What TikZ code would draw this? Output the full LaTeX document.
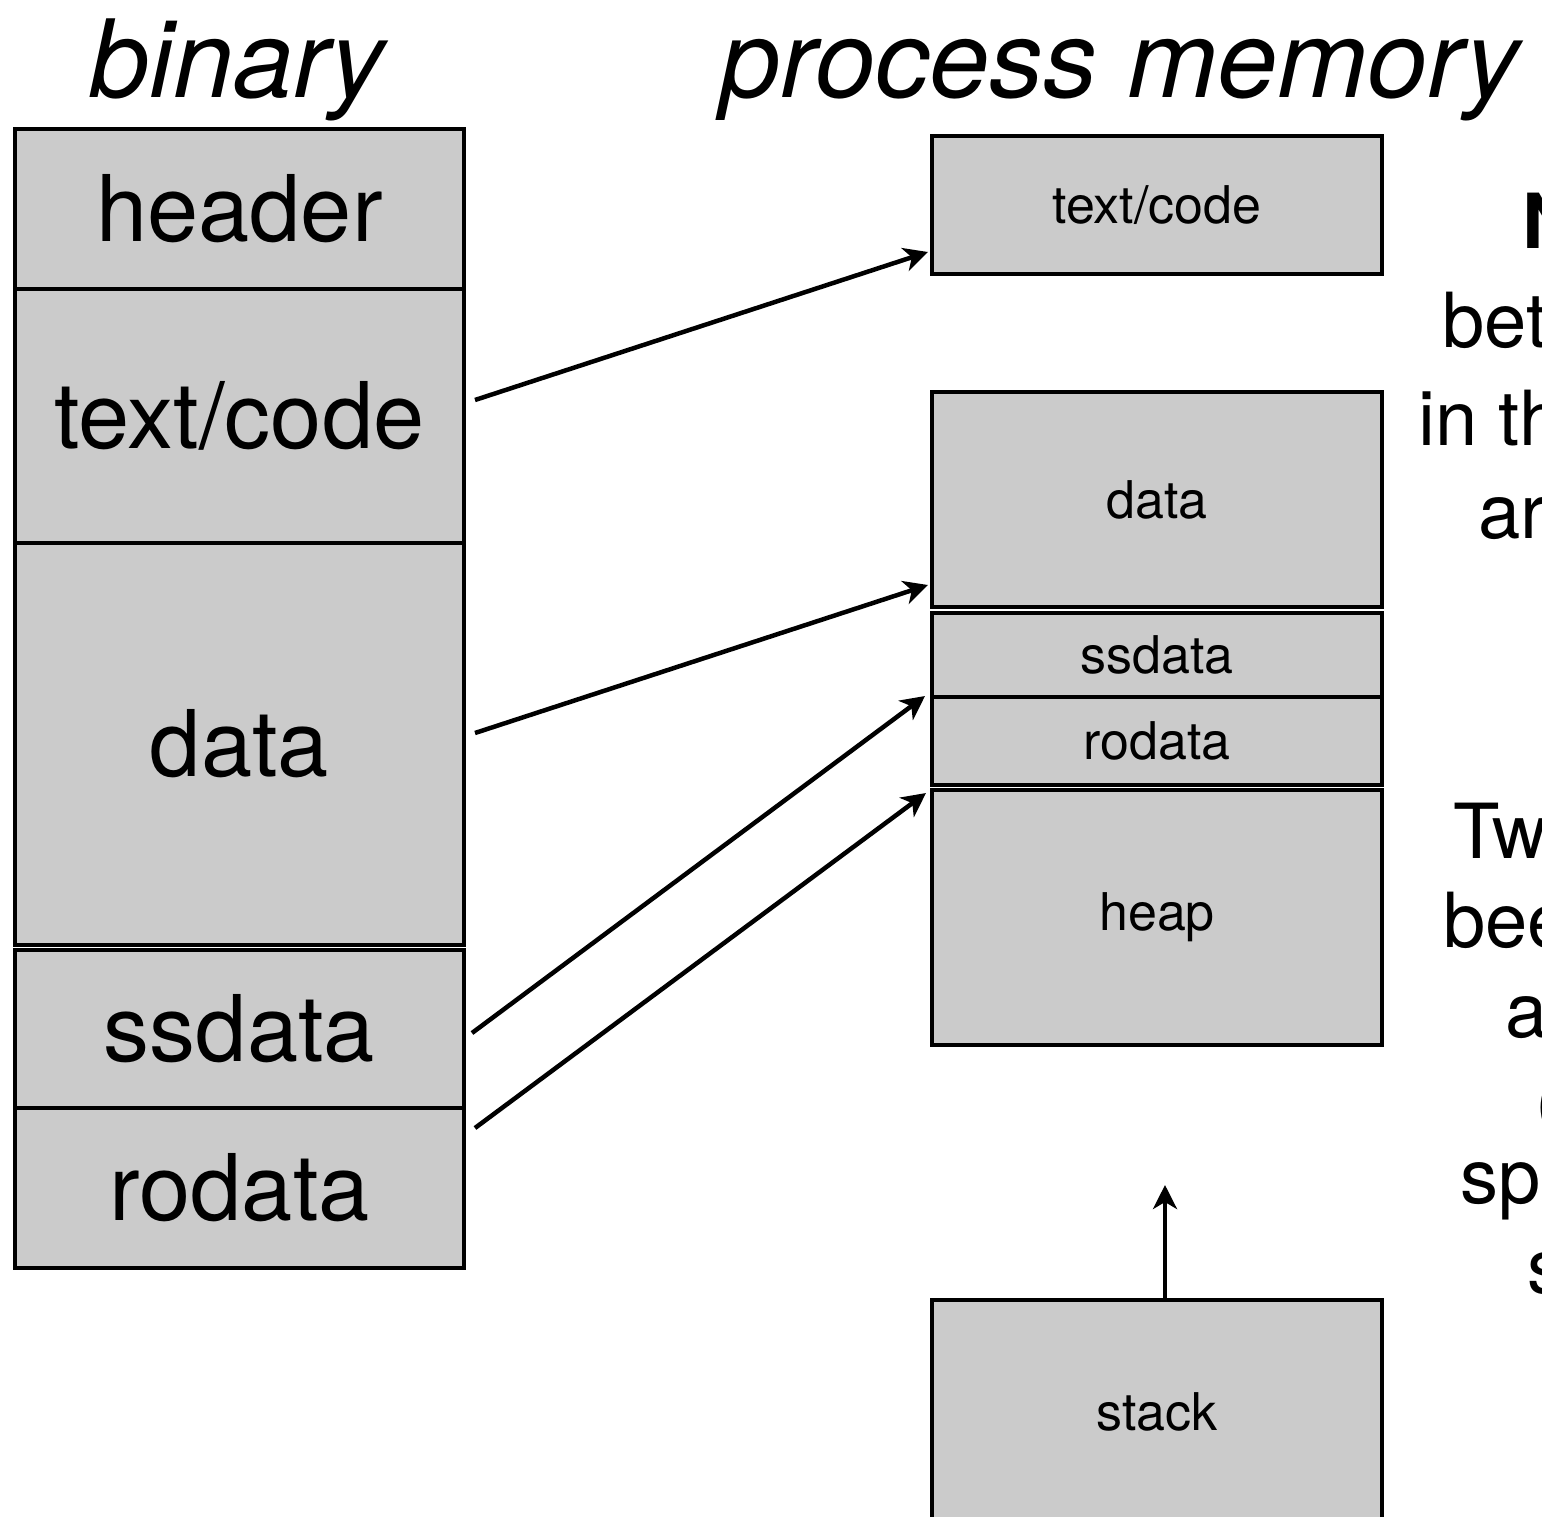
\documentclass[tikz,border=0pt]{standalone}
\usepackage{fontspec}
\setmainfont{TeX Gyre Heros}
\usetikzlibrary{calc,arrows.meta}

\definecolor{segfill}{RGB}{203,203,203}

\tikzset{
  seg/.style={draw=black, fill=segfill, line width=4.5pt, rectangle, inner sep=0pt, outer sep=0pt},
  binseg/.style={seg, minimum width=449pt, font=\fontsize{92}{92}\selectfont},
  memseg/.style={seg, minimum width=450pt, font=\fontsize{52}{52}\selectfont},
  maparrow/.style={line width=4.5pt, -{Stealth[length=24pt,width=24pt,inset=7pt]}},
  title/.style={anchor=base, font=\fontsize{108}{108}\selectfont\itshape},
  note/.style={anchor=base west, inner sep=0pt, font=\fontsize{76}{76}\selectfont}
}

\begin{document}
\begin{tikzpicture}[x=1pt, y=-1pt]
  \path[use as bounding box, fill=white] (0,0) rectangle (1542,1516);
  \clip (0,0) rectangle (1542,1516);

  % titles
  \node[title] (tbin) at (237,97) {binary};
  \node[title] (tmem) at (1120,97) {process memory};

  % sections of the binary file
  \node[binseg, minimum height=160pt] (bhead) at (239.5,209) {header};
  \node[binseg, minimum height=254pt] (btext) at (239.5,416) {text/code};
  \node[binseg, minimum height=402pt] (bdata) at (239.5,744) {data};
  \node[binseg, minimum height=158pt] (bss)   at (239.5,1029) {ssdata};
  \node[binseg, minimum height=160pt] (bro)   at (239.5,1188) {rodata};

  % regions of the process address space
  \node[memseg, minimum height=138pt] (ptext)  at (1157,205) {text/code};
  \node[memseg, minimum height=215pt] (pdata)  at (1157,499.5) {data};
  \node[memseg, minimum height=84pt]  (pss)    at (1157,655) {ssdata};
  \node[memseg, minimum height=88pt]  (pro)    at (1157,741) {rodata};
  \node[memseg, minimum height=255pt] (pheap)  at (1157,917.5) {heap};
  \node[memseg, minimum height=260pt] (pstack) at (1157,1430) {};
  \node[font=\fontsize{52}{52}\selectfont] (lstack) at (1157,1412) {stack};

  % loading: file sections mapped into memory
  \draw[maparrow] ($(btext.east)+(11,-16)$) -- ($(ptext.south west)+(-4,-22)$);
  \draw[maparrow] ($(bdata.east)+(11,-11)$) -- ($(pdata.south west)+(-4,-22)$);
  \draw[maparrow] ($(bss.east)+(8,4)$) -- ($(pss.south west)+(-7,-1)$);
  \draw[maparrow] ($(bro.north east)+(11,20)$) -- ($(pheap.north west)+(-6,3)$);

  % stack grows upward
  \coordinate (sgrow) at ($(pstack.north)+(8,-115)$);
  \draw[maparrow] ($(pstack.north)+(8,0)$) -- (sgrow);

  % side notes
  \node[note, font=\fontsize{76}{76}\selectfont\bfseries] (n1) at (1522,248) {N};
  \node[note] (n2) at (1442,347) {bet};
  \node[note] (n3) at (1418,445) {in th};
  \node[note] (n4) at (1478,538) {ar};
  \node[note] (n5) at (1453,858) {Tw};
  \node[note] (n6) at (1443,947) {bee};
  \node[note] (n7) at (1505,1037) {a};
  \node[note] (n8) at (1535,1127) {(};
  \node[note] (n9) at (1460,1203) {sp};
  \node[note] (n10) at (1527,1293) {s};
\end{tikzpicture}
\end{document}
